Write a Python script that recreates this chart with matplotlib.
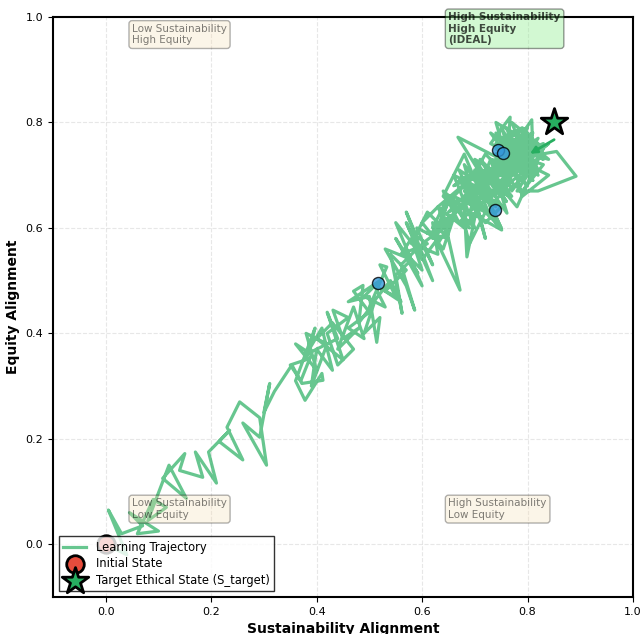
import numpy as np
import matplotlib.pyplot as plt

# trajectory, in phases (sustainability, equity)
early = [(0.00, 0.00), (0.04, -0.02), (0.005, 0.065), (0.03, 0.02), (0.07, 0.035),
         (0.045, 0.06), (0.10, 0.025), (0.06, 0.02), (0.09, 0.085), (0.115, 0.07),
         (0.08, 0.045), (0.12, 0.15), (0.153, 0.087), (0.108, 0.125), (0.15, 0.172),
         (0.14, 0.14), (0.184, 0.127), (0.17, 0.175), (0.21, 0.116), (0.195, 0.175),
         (0.235, 0.216), (0.215, 0.195), (0.26, 0.16), (0.23, 0.222), (0.254, 0.27),
         (0.292, 0.24), (0.305, 0.15), (0.26, 0.23), (0.292, 0.203), (0.311, 0.305),
         (0.30, 0.25), (0.32, 0.29), (0.353, 0.34), (0.372, 0.305), (0.412, 0.311),
         (0.41, 0.324), (0.378, 0.273), (0.36, 0.31), (0.397, 0.41), (0.38, 0.35),
         (0.35, 0.34), (0.37, 0.31), (0.39, 0.36), (0.36, 0.38), (0.40, 0.33),
         (0.38, 0.40), (0.42, 0.38), (0.39, 0.30)]

middle = [(0.40, 0.37), (0.43, 0.33), (0.41, 0.41), (0.38, 0.36), (0.44, 0.39),
          (0.42, 0.44), (0.45, 0.35), (0.40, 0.39), (0.43, 0.42), (0.47, 0.37),
          (0.44, 0.34), (0.42, 0.40), (0.46, 0.43), (0.431, 0.444), (0.45, 0.39),
          (0.48, 0.41), (0.44, 0.37), (0.47, 0.45), (0.49, 0.39), (0.46, 0.41),
          (0.50, 0.44), (0.47, 0.48), (0.488, 0.491), (0.48, 0.42), (0.51, 0.46),
          (0.49, 0.40), (0.52, 0.43), (0.514, 0.383), (0.50, 0.47), (0.46, 0.46),
          (0.52, 0.50), (0.49, 0.47), (0.53, 0.45), (0.51, 0.49), (0.55, 0.47),
          (0.52, 0.53), (0.533, 0.526), (0.50, 0.45), (0.54, 0.50), (0.56, 0.46),
          (0.53, 0.48), (0.57, 0.52), (0.54, 0.55), (0.562, 0.438), (0.55, 0.51),
          (0.58, 0.54), (0.53, 0.56), (0.57, 0.49), (0.586, 0.444), (0.56, 0.53),
          (0.59, 0.56), (0.55, 0.61), (0.60, 0.49), (0.55, 0.58), (0.592, 0.514),
          (0.57, 0.55), (0.60, 0.52), (0.58, 0.58), (0.56, 0.55), (0.61, 0.57),
          (0.59, 0.583), (0.57, 0.63), (0.62, 0.50), (0.57, 0.61), (0.60, 0.54),
          (0.63, 0.58), (0.59, 0.60), (0.62, 0.53), (0.60, 0.57), (0.64, 0.60),
          (0.61, 0.63), (0.58, 0.57), (0.63, 0.55), (0.62, 0.61), (0.65, 0.58),
          (0.61, 0.59), (0.647, 0.60), (0.63, 0.64), (0.60, 0.61), (0.64, 0.56),
          (0.66, 0.62), (0.62, 0.58), (0.65, 0.65), (0.63, 0.60)]

upper = [(0.66, 0.62), (0.63, 0.57), (0.672, 0.482), (0.65, 0.58), (0.64, 0.63),
         (0.69, 0.60), (0.65, 0.66), (0.62, 0.60), (0.68, 0.64), (0.685, 0.545),
         (0.70, 0.62), (0.64, 0.67), (0.67, 0.61), (0.71, 0.65), (0.668, 0.653),
         (0.69, 0.57), (0.72, 0.63), (0.66, 0.66), (0.70, 0.70), (0.63, 0.64),
         (0.68, 0.60), (0.73, 0.67), (0.67, 0.71), (0.71, 0.62), (0.69, 0.68),
         (0.74, 0.64), (0.68, 0.72), (0.72, 0.58), (0.70, 0.66), (0.751, 0.596),
         (0.69, 0.63), (0.73, 0.73), (0.761, 0.628), (0.71, 0.70), (0.74, 0.61),
         (0.68, 0.67), (0.72, 0.74), (0.77, 0.69), (0.73, 0.64), (0.70, 0.71),
         (0.75, 0.60), (0.72, 0.66), (0.67, 0.64), (0.71, 0.68), (0.74, 0.66),
         (0.66, 0.70), (0.70, 0.60), (0.64, 0.66), (0.68, 0.74), (0.73, 0.62),
         (0.67, 0.69), (0.69, 0.70), (0.66, 0.68), (0.72, 0.71), (0.75, 0.67),
         (0.70, 0.64), (0.73, 0.69), (0.76, 0.65), (0.71, 0.73), (0.74, 0.70),
         (0.68, 0.66), (0.72, 0.61), (0.75, 0.64), (0.70, 0.68), (0.77, 0.66),
         (0.73, 0.71), (0.65, 0.63), (0.71, 0.66), (0.74, 0.72), (0.69, 0.65),
         (0.76, 0.68), (0.72, 0.69), (0.78, 0.71), (0.74, 0.67), (0.70, 0.73),
         (0.75, 0.70)]

cluster = [(0.78, 0.70), (0.74, 0.74), (0.80, 0.68), (0.76, 0.72), (0.72, 0.69),
           (0.79, 0.75), (0.75, 0.66), (0.81, 0.71), (0.77, 0.77), (0.73, 0.70),
           (0.78, 0.64), (0.82, 0.73), (0.76, 0.68), (0.80, 0.76), (0.74, 0.71),
           (0.79, 0.67), (0.83, 0.72), (0.77, 0.74), (0.75, 0.79), (0.81, 0.69),
           (0.78, 0.73), (0.72, 0.65), (0.76, 0.70), (0.80, 0.78), (0.74, 0.75),
           (0.84, 0.70), (0.79, 0.66), (0.77, 0.73), (0.855, 0.745), (0.892, 0.698),
           (0.82, 0.67), (0.78, 0.67), (0.82, 0.73), (0.76, 0.71), (0.767, 0.81),
           (0.73, 0.76), (0.80, 0.72), (0.742, 0.734), (0.668, 0.772), (0.715, 0.696),
           (0.75, 0.72), (0.808, 0.805), (0.81, 0.74), (0.76, 0.70), (0.74, 0.76),
           (0.77, 0.67), (0.80, 0.71), (0.75, 0.73), (0.79, 0.76), (0.82, 0.70),
           (0.77, 0.73), (0.74, 0.78), (0.78, 0.74), (0.81, 0.69), (0.76, 0.75),
           (0.79, 0.72), (0.75, 0.71), (0.80, 0.75), (0.78, 0.73), (0.77, 0.77),
           (0.81, 0.72), (0.79, 0.74), (0.76, 0.73), (0.80, 0.76), (0.78, 0.74),
           (0.83, 0.76), (0.77, 0.72), (0.79, 0.73), (0.81, 0.75), (0.78, 0.74),
           (0.82, 0.77), (0.78, 0.71), (0.75, 0.77), (0.79, 0.79), (0.83, 0.74),
           (0.76, 0.74), (0.73, 0.78), (0.80, 0.73), (0.84, 0.76), (0.77, 0.70),
           (0.74, 0.80), (0.79, 0.77), (0.82, 0.71), (0.76, 0.76), (0.81, 0.78),
           (0.78, 0.72), (0.73, 0.73), (0.80, 0.70), (0.83, 0.75), (0.77, 0.78),
           (0.75, 0.74), (0.80, 0.77), (0.82, 0.74), (0.76, 0.79), (0.79, 0.71),
           (0.74, 0.73), (0.81, 0.76), (0.77, 0.75), (0.84, 0.73), (0.78, 0.78),
           (0.75, 0.76), (0.80, 0.72), (0.82, 0.76), (0.77, 0.80), (0.79, 0.75),
           (0.83, 0.73), (0.76, 0.77), (0.80, 0.79), (0.78, 0.75), (0.81, 0.73),
           (0.79, 0.77), (0.82, 0.75), (0.78, 0.76), (0.80, 0.74)]

checkpoints = [(0.516, 0.495), (0.738, 0.634), (0.744, 0.748), (0.753, 0.742)]
initial_state = (0.0, 0.0)
target_state = (0.85, 0.80)
arrow_tail = (0.855, 0.77)
arrow_head = (0.80, 0.738)

traj = np.array(early + middle + upper + cluster)
cp = np.array(checkpoints)

fig = plt.figure(figsize=(6.4, 6.34), dpi=100)
ax = fig.add_axes([53/640, 1 - 597/634, 580/640, 580/634])

ax.plot(traj[:, 0], traj[:, 1], color='#27ae60', alpha=0.7, lw=2.3,
        label='Learning Trajectory', zorder=2)
ax.scatter(cp[:, 0], cp[:, 1], s=75, color='#3498db', alpha=0.8,
           edgecolors='black', linewidths=1, zorder=4)
ax.scatter(*initial_state, s=160, color='#e74c3c', edgecolors='black',
           linewidths=2, label='Initial State', zorder=5)
ax.scatter(*target_state, s=400, marker='*', color='#27ae60', edgecolors='black',
           linewidths=2, label='Target Ethical State (S_target)', zorder=6)
ax.annotate('', xy=arrow_head, xytext=arrow_tail,
            arrowprops=dict(arrowstyle='-|>', color='#27ae60', lw=2, mutation_scale=10),
            zorder=5)

# quadrant notes
box = dict(boxstyle='round', facecolor='wheat', alpha=0.3)
ax.text(0.05, 0.95, 'Low Sustainability\nHigh Equity', fontsize=7.5, alpha=0.5, bbox=box)
ax.text(0.05, 0.05, 'Low Sustainability\nLow Equity', fontsize=7.5, alpha=0.5, bbox=box)
ax.text(0.65, 0.05, 'High Sustainability\nLow Equity', fontsize=7.5, alpha=0.5, bbox=box)
ax.text(0.65, 0.95, 'High Sustainability\nHigh Equity\n(IDEAL)', fontsize=7.5,
        fontweight='bold', alpha=0.7,
        bbox=dict(boxstyle='round', facecolor='lightgreen', alpha=0.4))

ax.set_xlim(-0.1, 1.0)
ax.set_ylim(-0.1, 1.0)
ax.set_xlabel('Sustainability Alignment', fontsize=10, fontweight='bold')
ax.set_ylabel('Equity Alignment', fontsize=10, fontweight='bold')
ax.tick_params(labelsize=8)
ax.grid(True, alpha=0.3, linestyle='--')
for sp in ax.spines.values():
    sp.set_linewidth(1.5)

leg = ax.legend(loc='lower left', fontsize=8.3, fancybox=False, edgecolor='black',
                labelspacing=0.3)
leg.set_zorder(10)

fig.savefig('out.png', dpi=100)
